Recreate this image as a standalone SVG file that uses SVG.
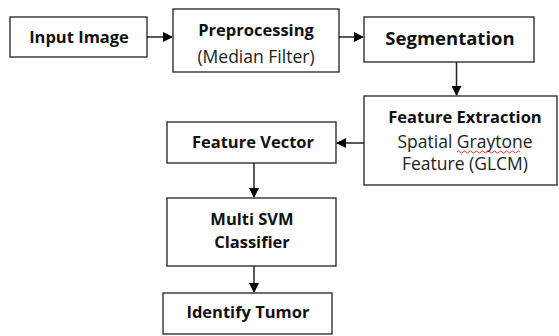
<svg xmlns="http://www.w3.org/2000/svg" width="559" height="336" viewBox="0 0 559 336">
<defs>
<marker id="ah" markerWidth="10" markerHeight="10" refX="9" refY="5" orient="auto" markerUnits="userSpaceOnUse">
<path d="M0,0 L10,5 L0,10 Z" fill="#000"/>
</marker>
<style>
.box{fill:#fff;stroke:#222;stroke-width:1.3}
.b{font-family:"Open Sans","Liberation Sans",sans-serif;font-weight:bold;font-size:16.5px;fill:#111;text-anchor:middle}
.r{font-family:"Open Sans","Liberation Sans",sans-serif;font-size:17.5px;fill:#222;text-anchor:middle}
.c{stroke:#222;stroke-width:1.5;fill:none;marker-end:url(#ah)}
</style>
</defs>
<rect width="559" height="336" fill="#fff"/>
<g id="connectors">
<line class="c" x1="147" y1="37" x2="172" y2="37"/>
<line class="c" x1="339" y1="37" x2="363" y2="37"/>
<line class="c" x1="456.5" y1="62" x2="456.5" y2="95"/>
<line class="c" x1="364" y1="143" x2="337" y2="143"/>
<line class="c" x1="254" y1="163" x2="254" y2="197"/>
<line class="c" x1="254" y1="266" x2="254" y2="292"/>
</g>
<g id="input-image">
<rect class="box" x="10" y="17" width="137" height="40"/>
<text class="b" x="79" y="43">Input Image</text>
</g>
<g id="preprocessing">
<rect class="box" x="173" y="9" width="166" height="63"/>
<text class="b" x="256" y="36">Preprocessing</text>
<text class="r" x="256" y="63">(Median Filter)</text>
</g>
<g id="segmentation">
<rect class="box" x="364" y="17" width="170" height="45"/>
<text class="b" x="450" y="45" style="font-size:18.5px">Segmentation</text>
</g>
<g id="feature-extraction">
<rect class="box" x="364" y="96" width="193" height="89"/>
<text class="b" x="465" y="123">Feature Extraction</text>
<text class="r" x="465" y="148">Spatial Graytone</text>
<text class="r" x="465" y="170">Feature (GLCM)</text>
<path d="M457,152 q1.5,-2 3,0 t3,0 t3,0 t3,0 t3,0 t3,0 t3,0 t3,0 t3,0 t3,0 t3,0 t3,0 t3,0 t3,0 t3,0 t3,0 t3,0 t3,0 t3,0 t3,0 t3,0" fill="none" stroke="#e00" stroke-width="0.8"/>
</g>
<g id="feature-vector">
<rect class="box" x="167" y="122" width="169" height="41"/>
<text class="b" x="253" y="148">Feature Vector</text>
</g>
<g id="multi-svm">
<rect class="box" x="167" y="198" width="169" height="68"/>
<text class="b" x="252" y="225">Multi SVM</text>
<text class="b" x="252" y="248">Classifier</text>
</g>
<g id="identify-tumor">
<rect class="box" x="163" y="293" width="169" height="41"/>
<text class="b" x="248" y="318">Identify Tumor</text>
</g>
</svg>
